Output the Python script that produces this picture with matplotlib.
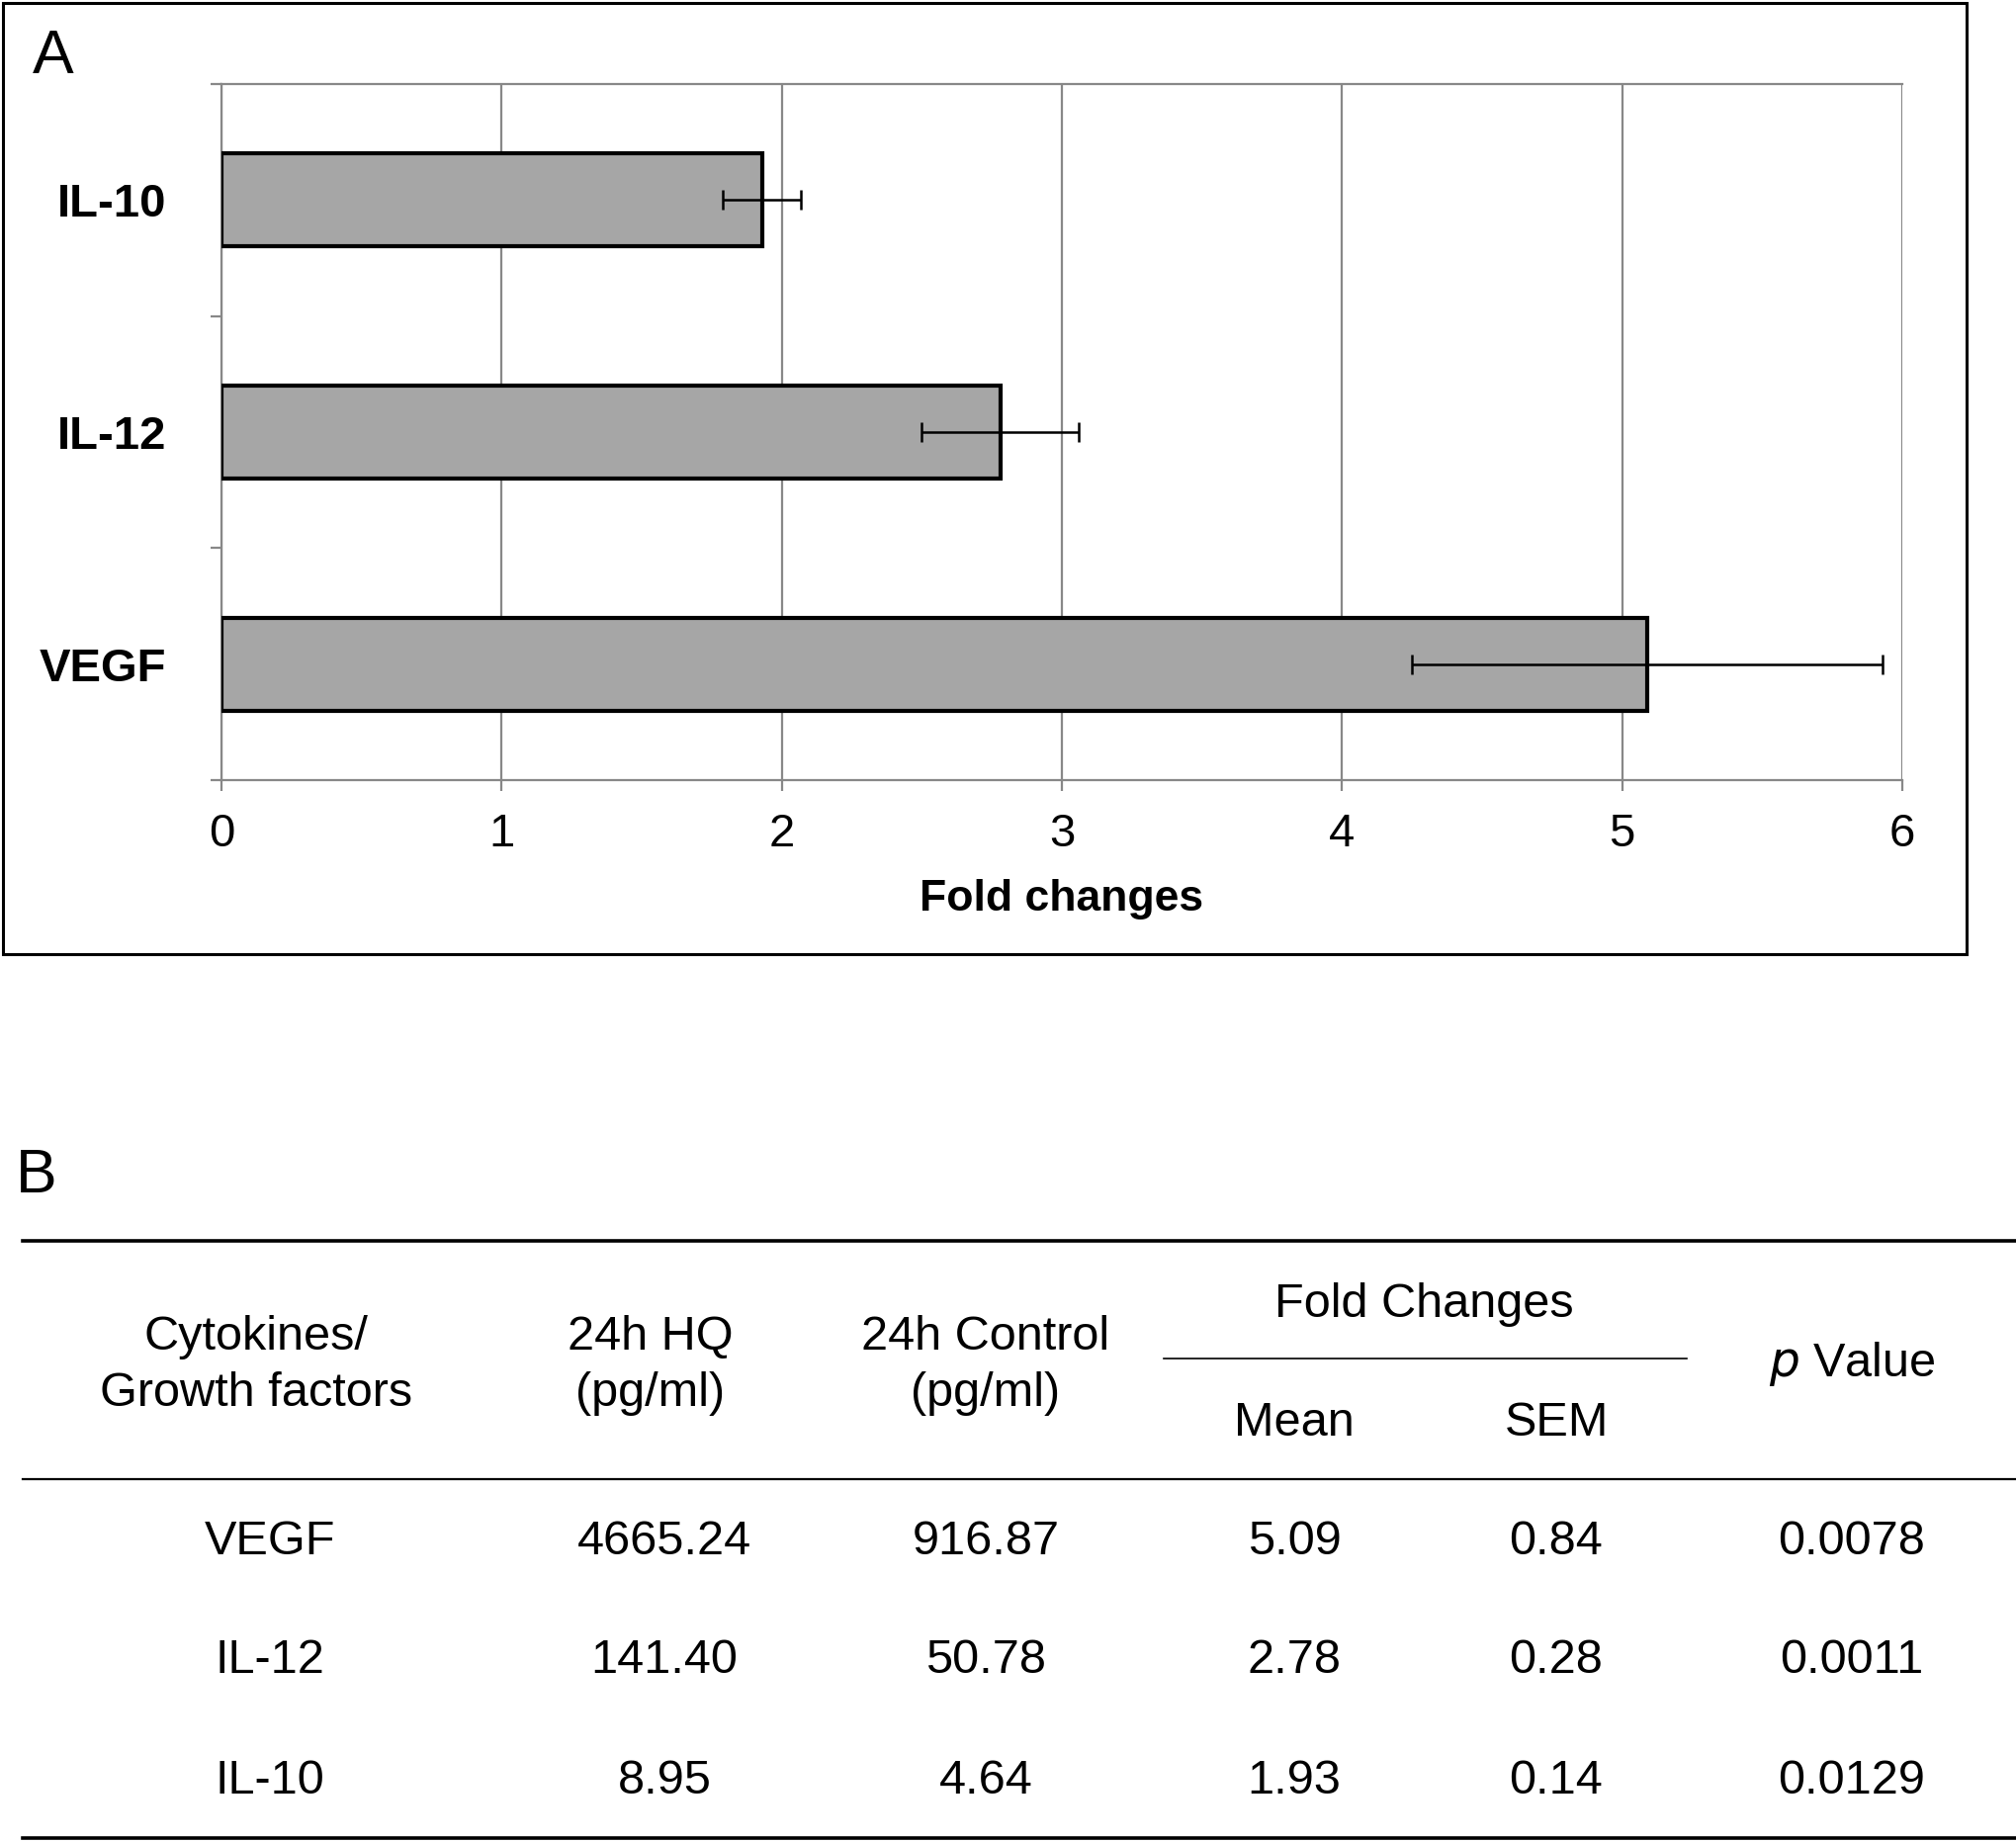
import matplotlib.pyplot as plt
from matplotlib.patches import Rectangle
from matplotlib.lines import Line2D

# data
cytokines = ["VEGF", "IL-12", "IL-10"]
hq_24h = ["4665.24", "141.40", "8.95"]
control_24h = ["916.87", "50.78", "4.64"]
fold_mean = [5.09, 2.78, 1.93]
fold_sem = [0.84, 0.28, 0.14]
p_values = ["0.0078", "0.0011", "0.0129"]

W, H = 2039, 1863
plt.rcParams['font.family'] = ['Liberation Sans', 'DejaVu Sans']

fig = plt.figure(figsize=(W / 100, H / 100), dpi=100)

# panel A frame
fig.patches.append(Rectangle((3 / W, 1 - 965 / H), 1986 / W, 962 / H,
                             transform=fig.transFigure, fill=False,
                             edgecolor="black", linewidth=2.2))
fig.text(54 / W, 1 - 58 / H, "A", fontsize=45, ha="center", va="center")

ax = fig.add_axes([224 / W, 1 - 789 / H, 1700 / W, 704 / H])
# chart order top to bottom: IL-10, IL-12, VEGF
order = [2, 1, 0]
ypos = list(range(len(order)))
ax.barh(ypos, [fold_mean[i] for i in order], height=0.4, color="#a6a6a6",
        edgecolor="black", linewidth=3, zorder=3)
ax.errorbar([fold_mean[i] for i in order], ypos,
            xerr=[fold_sem[i] for i in order], fmt="none", ecolor="black",
            elinewidth=1.8, capsize=7, capthick=1.8, zorder=4)
ax.set_xlim(0, 6)
ax.set_ylim(2.5, -0.5)
ax.set_xticks(range(7))
ax.set_yticks(ypos)
ax.set_yticklabels([cytokines[i] for i in order], fontsize=34,
                   fontweight="bold")
ax.set_yticks([-0.5, 0.5, 1.5, 2.5], minor=True)
ax.tick_params(axis="y", which="major", length=0, pad=40)
ax.tick_params(axis="y", which="minor", length=8, width=1.6, color="#888888")
ax.tick_params(axis="x", length=8, width=1.6, color="#888888", pad=16,
               labelsize=34)
ax.grid(axis="x", color="#888888", linewidth=1.6, zorder=0)
for s in ax.spines.values():
    s.set_color("#888888")
    s.set_linewidth(1.6)
ax.spines["right"].set_visible(False)
ax.set_xlabel("Fold changes", fontsize=32, fontweight="bold", labelpad=16)

# panel B table
fig.text(37 / W, 1 - 1190 / H, "B", fontsize=45, ha="center", va="center")

def hline(y, x0, x1, lw):
    fig.add_artist(Line2D([x0 / W, x1 / W], [1 - y / H, 1 - y / H],
                          transform=fig.transFigure, color="black",
                          linewidth=lw))

hline(1255, 23, 2039, 2.6)
hline(1374, 1177, 1706, 1.2)
hline(1496, 23, 2039, 1.6)
hline(1859, 23, 2039, 2.6)

fs = 35
def txt(x, y, s, **kw):
    fig.text(x / W, 1 - y / H, s, fontsize=fs, ha="center", va="center",
             **kw)

txt(259, 1381, "Cytokines/\nGrowth factors", linespacing=1.32)
txt(658, 1381, "24h HQ\n(pg/ml)", linespacing=1.32)
txt(997, 1381, "24h Control\n(pg/ml)", linespacing=1.32)
txt(1440, 1320, "Fold Changes")
txt(1309, 1439, "Mean")
txt(1574, 1439, "SEM")
txt(1873, 1379, r"$\it{p}$ Value")

row_y = [1560, 1680, 1802]
for i, y in enumerate(row_y):
    txt(273, y, cytokines[i])
    txt(672, y, hq_24h[i])
    txt(997, y, control_24h[i])
    txt(1309, y, f"{fold_mean[i]:.2f}")
    txt(1574, y, f"{fold_sem[i]:.2f}")
    txt(1873, y, p_values[i])

fig.savefig("out.png", dpi=100)
